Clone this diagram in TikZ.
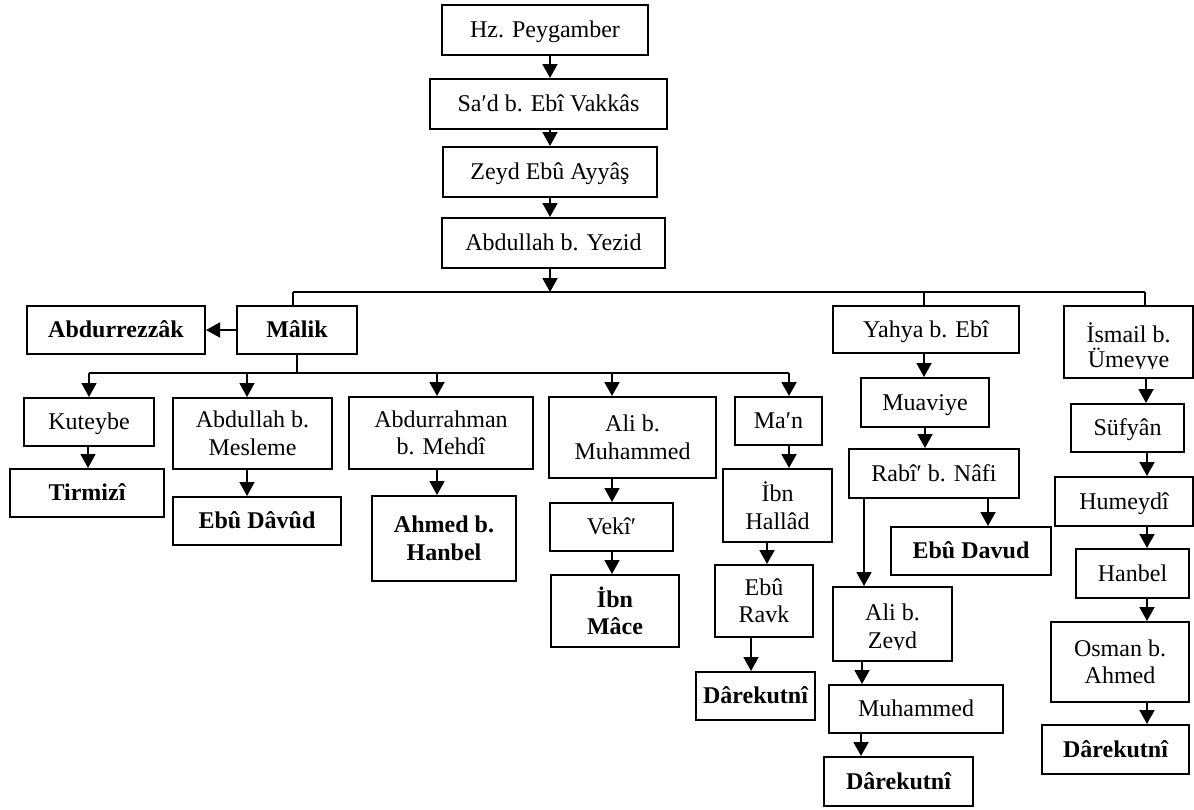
\documentclass[tikz,border=0pt]{standalone}
\usepackage{fontspec}
\setmainfont{Liberation Serif}
\usetikzlibrary{arrows.meta}

\tikzset{
  nbox/.style={draw, line width=2pt, inner sep=0pt,
    font=\fontsize{24}{27.5}\selectfont, text height=18pt, text depth=3pt},
  two/.style={align=center, text height=, text depth=},
  bname/.style={font=\fontsize{24}{27.5}\selectfont\bfseries},
  sz/.style 2 args={minimum width=#1pt, minimum height=#2pt},
  conn/.style={line width=1.8pt},
  arr/.style={line width=1.8pt, -{Triangle[width=15pt,length=14pt]}},
  % two lines of text, cut off a little above the lower edge of the box;
  % #2 and #3 are the baseline heights above the box centre
  clipped/.style n args={5}{path picture={
      \clip (path picture bounding box.north west)
        rectangle ([yshift=#1pt]path picture bounding box.south east);
      \node[anchor=base, inner sep=0pt, text height=, text depth=,
            font=\fontsize{24}{27.5}\selectfont]
        at ([yshift=#2pt]path picture bounding box.center) {#4};
      \node[anchor=base, inner sep=0pt, text height=, text depth=,
            font=\fontsize{24}{27.5}\selectfont]
        at ([yshift=#3pt]path picture bounding box.center) {#5};}},
}

\begin{document}
\begin{tikzpicture}[x=1pt, y=-1pt]
\useasboundingbox (0,0) rectangle (1194,809);

% main chain
\node[nbox, sz={206}{50}] (hz)   at (545,30)    {Hz. Peygamber};
\node[nbox, sz={237}{50}] (sad)  at (548.5,104) {Sa′d b. Ebî Vakkâs};
\node[nbox, sz={214}{50}] (zeyd) at (550,172)   {Zeyd Ebû Ayyâş};
\node[nbox, sz={223}{50}] (abdy) at (553.5,243) {Abdullah b. Yezid};

% first level
\node[nbox, bname, sz={178}{48}] (rezzak) at (116,330) {Abdurrezzâk};
\node[nbox, bname, sz={120}{48}] (malik)  at (297,330) {Mâlik};
\node[nbox, sz={186}{47}] (yahya)  at (926,329.5) {Yahya b. Ebî};
\node[nbox, sz={129}{72}, clipped={10}{0}{-25}{İsmail b.}{Ümeyye}] (ismail) at (1128.5,342) {};

% students of Malik
\node[nbox, sz={130}{48}] (kuteybe) at (89,422) {Kuteybe};
\node[nbox, bname, sz={154}{48}] (tirmizi) at (87,493) {Tirmizî};
\node[nbox, two, sz={159}{71}] (mesleme) at (252.5,433.5) {Abdullah b.\\Mesleme};
\node[nbox, bname, sz={168}{48}] (davud1) at (257,521) {Ebû Dâvûd};
\node[nbox, two, sz={184}{72}] (mehdi) at (441,433) {Abdurrahman\\b. Mehdî};
\node[nbox, two, bname, sz={144}{85}] (ahmed) at (444,538.5) {Ahmed b.\\Hanbel};
\node[nbox, two, sz={167}{81}] (alim) at (632.5,437.5) {Ali b.\\Muhammed};
\node[nbox, sz={123}{48}] (veki) at (611.5,527) {Vekî′};
\node[nbox, two, bname, sz={128}{72}] (mace) at (615,611) {İbn\\Mâce};
\node[nbox, sz={87}{48}] (man) at (778.5,421) {Ma′n};
\node[nbox, two, sz={109}{73}] (hallad) at (777.5,505.5) {İbn\\Hallâd};
\node[nbox, two, sz={98}{72}] (ravk) at (764,601) {Ebû\\Ravk};
\node[nbox, bname, sz={119}{48}] (dare1) at (755.5,696) {Dârekutnî};

% Yahya line
\node[nbox, sz={128}{49}] (muaviye) at (925,402.5) {Muaviye};
\node[nbox, sz={170}{49}] (rabi) at (934,473.5) {Rabî′ b. Nâfi};
\node[nbox, bname, sz={160}{48}] (davud2) at (971,551) {Ebû Davud};
\node[nbox, sz={119}{74}, clipped={12}{4}{-24}{Ali b.}{Zeyd}] (alizeyd) at (892.5,624) {};
\node[nbox, sz={174}{48}] (muh) at (916,709) {Muhammed};
\node[nbox, bname, sz={149}{49}] (dare2) at (898.5,781.5) {Dârekutnî};

% Ismail line
\node[nbox, sz={113}{48}] (sufyan) at (1127.5,428) {Süfyân};
\node[nbox, sz={138}{49}] (humeydi) at (1124,501.5) {Humeydî};
\node[nbox, sz={113}{49}] (hanbel) at (1132.5,573.5) {Hanbel};
\node[nbox, two, sz={138}{80}] (osman) at (1120,662) {Osman b.\\Ahmed};
\node[nbox, bname, sz={147}{49}] (dare3) at (1115.5,749.5) {Dârekutnî};

% bus points
\coordinate (tA) at (550,292);
\coordinate (tL) at (293,292);
\coordinate (tR) at (1145,292);
\coordinate (m0) at (297,373);
\coordinate (mL) at (89,373);
\coordinate (mR) at (789,373);

% main chain connectors
\draw[arr] (hz.south -| tA) -- (sad.north -| tA);
\draw[arr] (sad.south -| tA) -- (zeyd.north -| tA);
\draw[arr] (zeyd.south -| tA) -- (abdy.north -| tA);
\draw[arr] (abdy.south -| tA) -- (tA);

% top bus
\draw[conn] (tL) -- (tR);
\draw[conn] (tL) -- (malik.north -| tL);
\draw[conn] (924,292) -- (yahya.north -| 924,0);
\draw[conn] (tR) -- (ismail.north -| tR);

% Malik
\draw[arr] (malik) -- (rezzak);
\draw[conn] (malik.south) -- (m0);
\draw[conn] (mL) -- (mR);
\draw[arr] (mL) -- (kuteybe.north -| mL);
\draw[arr] (247,373) -- (mesleme.north -| 247,0);
\draw[arr] (437,373) -- (mehdi.north -| 437,0);
\draw[arr] (612,373) -- (alim.north -| 612,0);
\draw[arr] (mR) -- (man.north -| mR);

\draw[arr] (kuteybe.south -| 88,0) -- (tirmizi.north -| 88,0);
\draw[arr] (mesleme.south -| 247,0) -- (davud1.north -| 247,0);
\draw[arr] (mehdi.south -| 437,0) -- (ahmed.north -| 437,0);
\draw[arr] (alim.south -| 612,0) -- (veki.north -| 612,0);
\draw[arr] (veki.south -| 612,0) -- (mace.north -| 612,0);
\draw[arr] (man.south -| 789,0) -- (hallad.north -| 789,0);
\draw[arr] (hallad.south -| 767,0) -- (ravk.north -| 767,0);
\draw[arr] (ravk.south -| 751,0) -- (dare1.north -| 751,0);

% Yahya
\draw[arr] (yahya.south -| 924,0) -- (muaviye.north -| 924,0);
\draw[arr] (muaviye.south -| 925,0) -- (rabi.north -| 925,0);
\draw[arr] (rabi.south -| 988,0) -- (davud2.north -| 988,0);
\draw[arr] (rabi.south -| 864,0) -- (alizeyd.north -| 864,0);
\draw[arr] (alizeyd.south -| 862,0) -- (muh.north -| 862,0);
\draw[arr] (muh.south -| 861,0) -- (dare2.north -| 861,0);

% Ismail
\draw[arr] (ismail.south -| 1146,0) -- (sufyan.north -| 1146,0);
\draw[arr] (sufyan.south -| 1147,0) -- (humeydi.north -| 1147,0);
\draw[arr] (humeydi.south -| 1147,0) -- (hanbel.north -| 1147,0);
\draw[arr] (hanbel.south -| 1147,0) -- (osman.north -| 1147,0);
\draw[arr] (osman.south -| 1147,0) -- (dare3.north -| 1147,0);
\end{tikzpicture}
\end{document}
